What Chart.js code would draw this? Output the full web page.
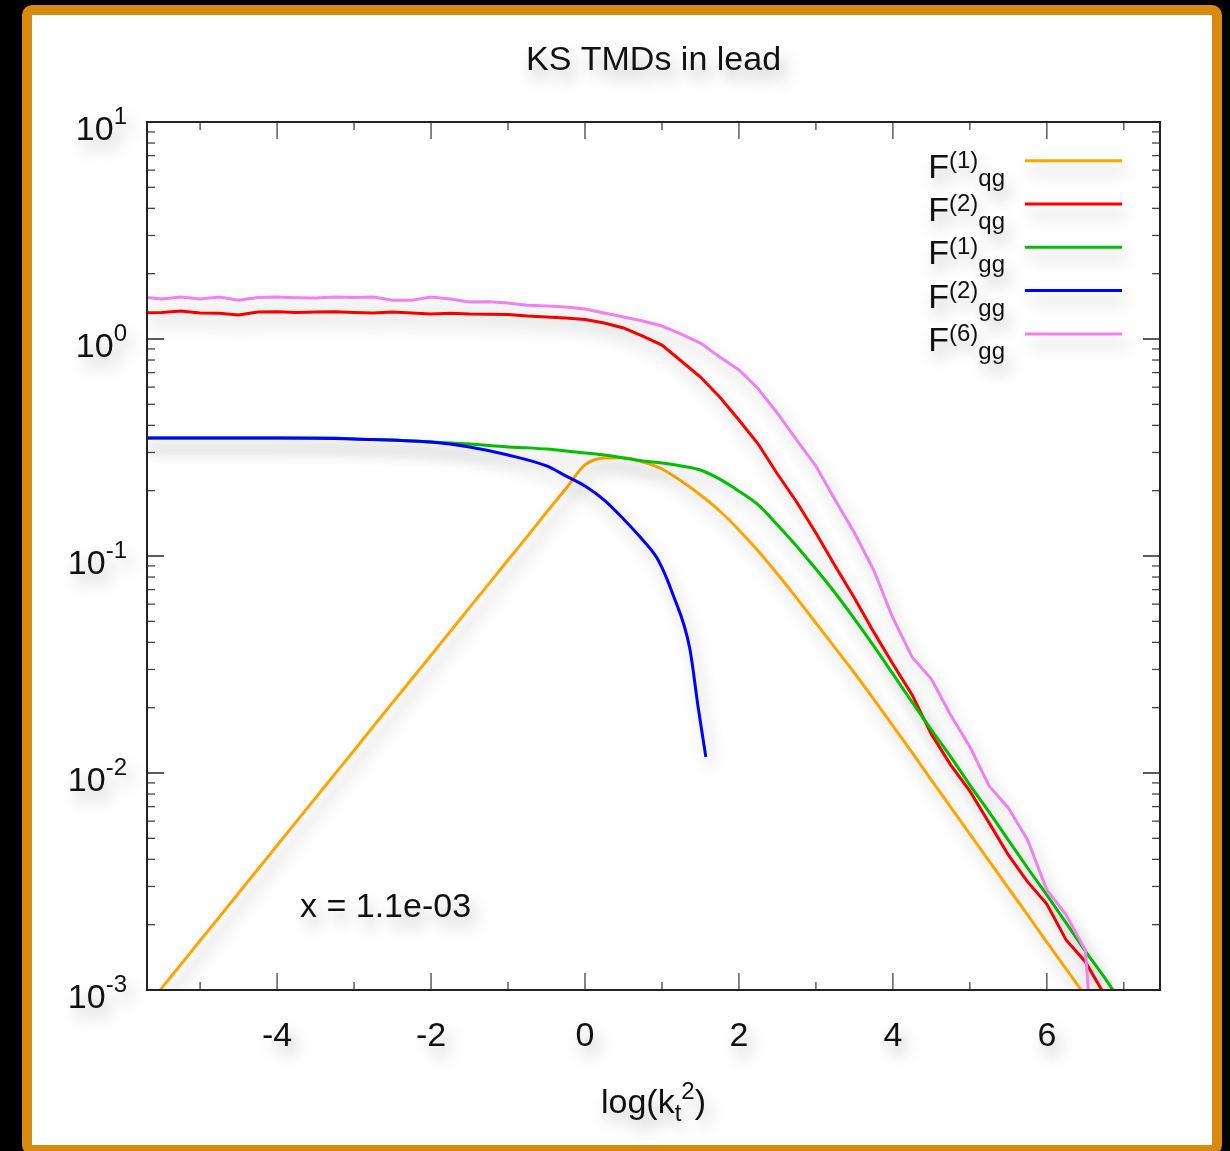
<!DOCTYPE html>
<html lang="en">
<head>
<meta charset="UTF-8">
<title>KS TMDs in lead</title>
<script src="https://cdn.jsdelivr.net/npm/chart.js"></script>
<style>
  body { margin: 0; background: #000; width: 1230px; height: 1151px; overflow: hidden; }
  #frame { position: absolute; left: 22px; top: 5px; width: 1200px; height: 1150px; box-sizing: border-box;
           border: 10px solid #d8890f; border-radius: 10px; background: #fff; }
  #wrap { position: absolute; left: 0; top: 0; width: 1230px; height: 1151px; }
</style>
</head>
<body>
<div id="frame"></div>
<div id="wrap"><canvas id="tmdChart"></canvas></div>

<script>
// log(kt^2) grid shared by four of the curves
const lnKt2 = [-5.75, -5.5, -5.25, -5, -4.75, -4.5, -4.25, -4, -3.75, -3.5, -3.25, -3, -2.75, -2.5, -2.25, -2,
  -1.75, -1.5, -1.25, -1, -0.75, -0.5, -0.25, 0, 0.25, 0.5, 0.75, 1, 1.25, 1.5, 1.75, 2, 2.25, 2.5, 2.75, 3,
  3.25, 3.5, 3.75, 4, 4.25, 4.5, 4.75, 5, 5.25, 5.5, 5.75, 6, 6.25, 6.5, 6.75, 7];

const f1qg = [7.93e-4, 1.02e-3, 1.31e-3, 1.69e-3, 2.17e-3, 2.80e-3, 3.60e-3, 4.63e-3, 5.97e-3, 7.68e-3, 9.88e-3,
  1.27e-2, 1.64e-2, 2.11e-2, 2.71e-2, 3.49e-2, 4.49e-2, 5.78e-2, 7.44e-2, 9.58e-2, 0.123, 0.159, 0.204, 0.263,
  0.283, 0.284, 0.271, 0.2518, 0.2216, 0.1910, 0.1612, 0.1318, 0.1054, 0.0826, 0.0640, 0.0491, 0.0377, 0.0289,
  0.0219, 0.0165, 0.0124, 0.00928, 0.00697, 0.00523, 0.00393, 0.00295, 0.00222, 0.00166, 0.00125, 0.00094,
  0.000705, 0.00053];

const f2qg = [1.318, 1.325, 1.346, 1.318, 1.315, 1.29, 1.331, 1.335, 1.325, 1.331, 1.335, 1.325, 1.318, 1.331,
  1.318, 1.304, 1.315, 1.304, 1.30, 1.297, 1.276, 1.263, 1.250, 1.23, 1.185, 1.124, 1.032, 0.938, 0.792, 0.668,
  0.540, 0.423, 0.328, 0.2387, 0.1774, 0.1277, 0.0899, 0.0640, 0.0447, 0.0318, 0.0229, 0.0151, 0.0109, 0.00826,
  0.00589, 0.00419, 0.00315, 0.00249, 0.00170, 0.00135, 0.00095, 0.00066];

const f1gg = [0.350, 0.350, 0.350, 0.350, 0.350, 0.350, 0.350, 0.350, 0.350, 0.350, 0.350, 0.346, 0.344, 0.342,
  0.339, 0.335, 0.332, 0.328, 0.323, 0.318, 0.315, 0.311, 0.305, 0.298, 0.292, 0.283, 0.274, 0.268, 0.260, 0.249,
  0.226, 0.199, 0.172, 0.139, 0.111, 0.0871, 0.0675, 0.0513, 0.0385, 0.0286, 0.0212, 0.0158, 0.0119, 0.00880,
  0.00661, 0.00491, 0.00365, 0.00274, 0.00204, 0.00151, 0.00114, 0.00084];

const f6gg = [1.56, 1.53, 1.56, 1.53, 1.56, 1.51, 1.555, 1.56, 1.55, 1.545, 1.56, 1.555, 1.56, 1.51, 1.51, 1.56,
  1.53, 1.48, 1.485, 1.465, 1.43, 1.42, 1.404, 1.375, 1.318, 1.263, 1.21, 1.148, 1.054, 0.958, 0.826, 0.720,
  0.59, 0.455, 0.342, 0.260, 0.181, 0.128, 0.0862, 0.0518, 0.0342, 0.0271, 0.0185, 0.0132, 0.00871, 0.00690,
  0.00491, 0.00289, 0.00222, 0.00153, 0.0001, 0.00005];

// F(2)gg stops early, own grid
const f2ggX = [-5.75, -4, -3, -2, -1.5, -1, -0.5, -0.25, 0, 0.25, 0.5, 0.75, 0.95, 1.14, 1.36, 1.47, 1.57];
const f2ggY = [0.350, 0.350, 0.346, 0.335, 0.318, 0.292, 0.260, 0.234, 0.210, 0.181, 0.148, 0.1185, 0.0958,
  0.0668, 0.0377, 0.0201, 0.01185];

const legendSup = ['(1)', '(2)', '(1)', '(2)', '(6)'];
const legendSub = ['qg', 'qg', 'gg', 'gg', 'gg'];
const colors = ['#ffa500', '#ff0000', '#00c000', '#0000ff', '#ee82ee'];
const xTicks = [-4, -2, 0, 2, 4, 6];
const yDecades = [-3, -2, -1, 0, 1];

const FONT = '"Liberation Sans", Arial, Helvetica, sans-serif';

function shadow(ctx) {
    ctx.shadowColor = 'rgba(0,0,0,0.30)';
    ctx.shadowBlur = 16;
    ctx.shadowOffsetX = 5;
    ctx.shadowOffsetY = 10;
}

// draws a run of text pieces: [text, size, dy]
function rich(ctx, parts, x, y, align) {
    let w = 0;
    parts.forEach(p => { ctx.font = p[1] + 'px ' + FONT; w += ctx.measureText(p[0]).width; });
    let cx = align === 'right' ? x - w : align === 'center' ? x - w / 2 : x;
    parts.forEach(p => {
        ctx.font = p[1] + 'px ' + FONT;
        ctx.fillText(p[0], cx, y + (p[2] || 0));
        cx += ctx.measureText(p[0]).width;
    });
}

const decor = {
    id: 'decor',
    beforeDatasetsDraw(chart) { chart.ctx.save(); shadow(chart.ctx); },
    afterDatasetsDraw(chart) { chart.ctx.restore(); },
    afterDraw(chart) {
        const { ctx, chartArea: a, scales: { x, y } } = chart;
        const seg = (x1, y1, x2, y2) => { ctx.beginPath(); ctx.moveTo(x1, y1); ctx.lineTo(x2, y2); ctx.stroke(); };
        ctx.save();

        // inward ticks on all four sides
        ctx.strokeStyle = '#444';
        ctx.lineWidth = 1.3;
        for (let v = -5; v <= 7; v++) {
            const px = x.getPixelForValue(v);
            const len = v % 2 === 0 ? 17 : 8;
            seg(px, a.bottom, px, a.bottom - len);
            seg(px, a.top, px, a.top + len);
        }
        for (let d = -3; d <= 0; d++) {
            for (let m = 1; m <= 10; m++) {
                const py = y.getPixelForValue(m * Math.pow(10, d));
                const len = (m === 1 || m === 10) ? 17 : 8;
                seg(a.left, py, a.left + len, py);
                seg(a.right, py, a.right - len, py);
            }
        }
        ctx.strokeStyle = '#222';
        ctx.lineWidth = 2;
        ctx.strokeRect(a.left, a.top, a.right - a.left, a.bottom - a.top);

        // text, all with the soft drop shadow
        shadow(ctx);
        ctx.fillStyle = '#111';
        ctx.textBaseline = 'alphabetic';
        const mid = (a.left + a.right) / 2;
        rich(ctx, [['KS TMDs in lead', 34]], mid, 70, 'center');

        xTicks.forEach(v => rich(ctx, [[String(v), 34]], x.getPixelForValue(v), a.bottom + 56, 'center'));
        yDecades.forEach(d => {
            const py = y.getPixelForValue(Math.pow(10, d));
            rich(ctx, [['10', 34, 18], [String(d), 24, 2]], a.left - 20, py, 'right');
        });
        rich(ctx, [['log(k', 34], ['t', 24, 8], ['2', 24, -14], [')', 34]], mid, a.bottom + 123, 'center');
        rich(ctx, [['x = 1.1e-03', 34]], a.left + 153, a.bottom - 73, 'left');

        // legend, top right
        chart.data.datasets.forEach((ds, i) => {
            const ly = a.top + 38.7 + 43.3 * i;
            ctx.fillStyle = '#111';
            rich(ctx, [['F', 34, 17], [legendSup[i], 24, 7], [legendSub[i], 24, 25]], a.right - 155, ly, 'right');
            ctx.strokeStyle = ds.borderColor;
            ctx.lineWidth = 3;
            seg(a.right - 135, ly, a.right - 38, ly);
        });
        ctx.restore();
    }
};

const pts = (xs, ys) => xs.map((v, i) => ({ x: v, y: ys[i] }));
const seriesData = [pts(lnKt2, f1qg), pts(lnKt2, f2qg), pts(lnKt2, f1gg), pts(f2ggX, f2ggY), pts(lnKt2, f6gg)];
const smooth = [true, false, true, true, false];

const ctx = document.getElementById('tmdChart').getContext('2d');
new Chart(ctx, {
    type: 'line',
    data: {
        datasets: seriesData.map((d, i) => ({
            data: d,
            borderColor: colors[i],
            borderWidth: 3,
            pointRadius: 0,
            tension: 0,
            cubicInterpolationMode: smooth[i] ? 'monotone' : 'default',
            order: 5 - i
        }))
    },
    options: {
        responsive: true,
        maintainAspectRatio: false,
        animation: false,
        layout: { padding: { left: 147, top: 122, right: 70, bottom: 161 } },
        scales: {
            x: { type: 'linear', min: -5.69, max: 7.47, display: false },
            y: { type: 'logarithmic', min: 1e-3, max: 10, display: false }
        },
        plugins: { legend: { display: false }, tooltip: { enabled: false } }
    },
    plugins: [decor]
});
</script>
</body>
</html>
